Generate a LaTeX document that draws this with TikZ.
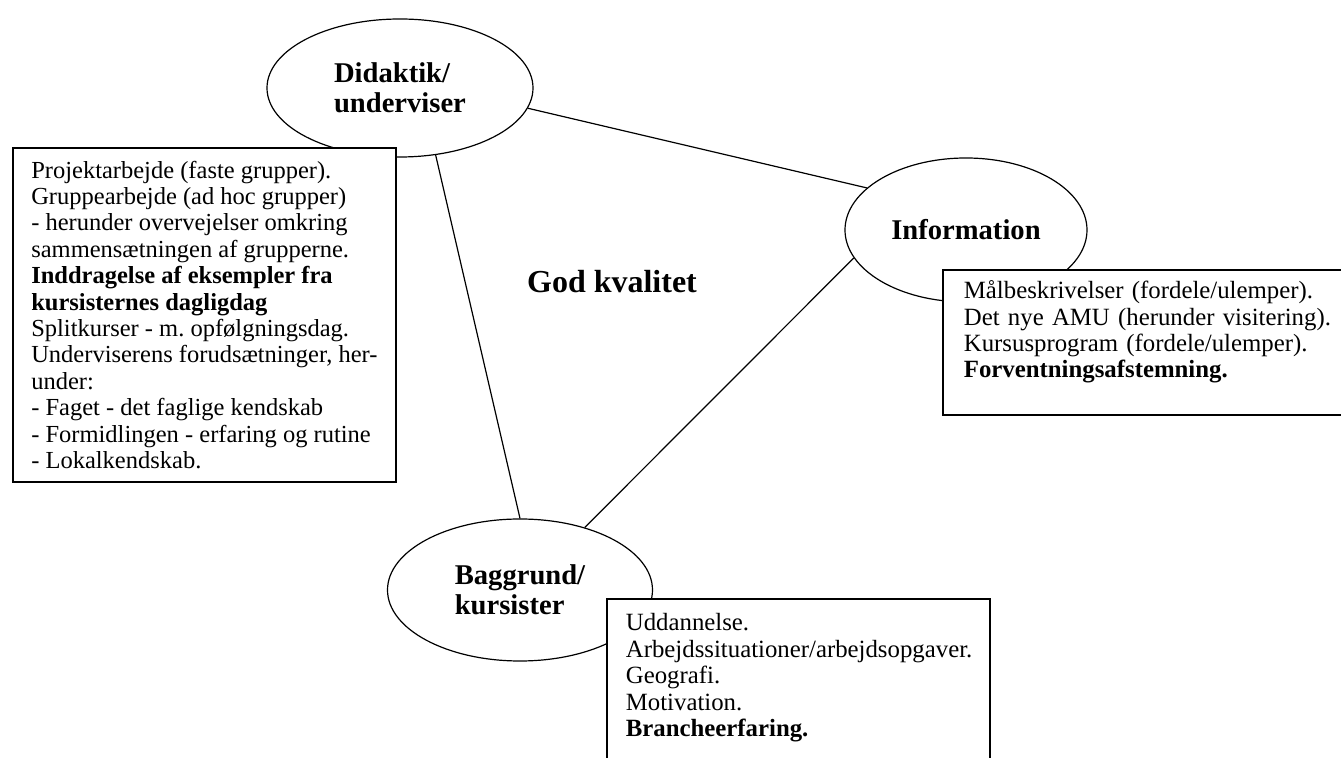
\documentclass[tikz,border=0pt]{standalone}
\usepackage{fontspec}
\setmainfont{Liberation Serif}
\frenchspacing
\usetikzlibrary{shapes.geometric}

\begin{document}
\begin{tikzpicture}[
    x=0.5pt, y=-0.5pt,
    topic/.style={ellipse, draw, line width=0.6pt, inner sep=0pt, align=left, font={\fontsize{14.3}{15.2}\selectfont\bfseries}},
    notebox/.style={rectangle, draw, line width=0.9pt, fill=white, anchor=north west, align=left, inner xsep=9.75pt, font={\fontsize{12.4}{13.2}\selectfont}},
    link/.style={line width=0.6pt}
]
% Frame
\useasboundingbox (0,0) rectangle (1341,758);
\clip (0,0) rectangle (1341,758);

% Topics
\node[topic, minimum width=133pt, minimum height=69pt] (did) at (400,88) {Didaktik/\\underviser};
\node[topic, minimum width=121pt, minimum height=72pt] (info) at (966,230) {Information};
\node[topic, minimum width=132.5pt, minimum height=71pt] (bag) at (520,590) {Baggrund/\\kursister};

% Links
\draw[link] (did.-9) -- (info.157);
\draw[link] (did.-62) -- (bag.90);
\draw[link] (info.-166) -- (bag.44);

% Centre
\node[font={\fontsize{16}{19}\selectfont\bfseries}, anchor=base] (god) at (612,293) {God kvalitet};

% Notes
\node[notebox, minimum width=191.5pt, inner xsep=8pt, inner ysep=6.5pt, font={\fontsize{12.25}{13.2}\selectfont}] (didnote) at (12,147) {Projektarbejde (faste grupper).\\
Gruppearbejde (ad hoc grupper)\\
- herunder overvejelser omkring\\
sammensætningen af grupperne.\\
\textbf{Inddragelse af eksempler fra}\\
\textbf{kursisternes dagligdag}\\
Splitkurser - m. opfølgningsdag.\\
Underviserens forudsætninger, her-\\
under:\\
- Faget - det faglige kendskab\\
- Formidlingen - erfaring og rutine\\
- Lokalkendskab.};
\node[notebox, text width=189pt, inner xsep=10.5pt, inner ysep=5.4pt] (infonote) at (942,269) {Målbeskrivelser (fordele/ulemper).\\
Det nye AMU (herunder visitering).\\
Kursusprogram (fordele/ulemper).\\
\textbf{Forventningsafstemning.}\rule[-13.1pt]{0pt}{13.1pt}};
\node[notebox, text width=172.5pt, inner xsep=9.5pt, inner ysep=7.4pt] (bagnote) at (606,598) {Uddannelse.\\
Arbejdssituationer/arbejdsopgaver.\\
Geografi.\\
Motivation.\\
\textbf{Brancheerfaring.}\rule[-20pt]{0pt}{20pt}};
\end{tikzpicture}
\end{document}
